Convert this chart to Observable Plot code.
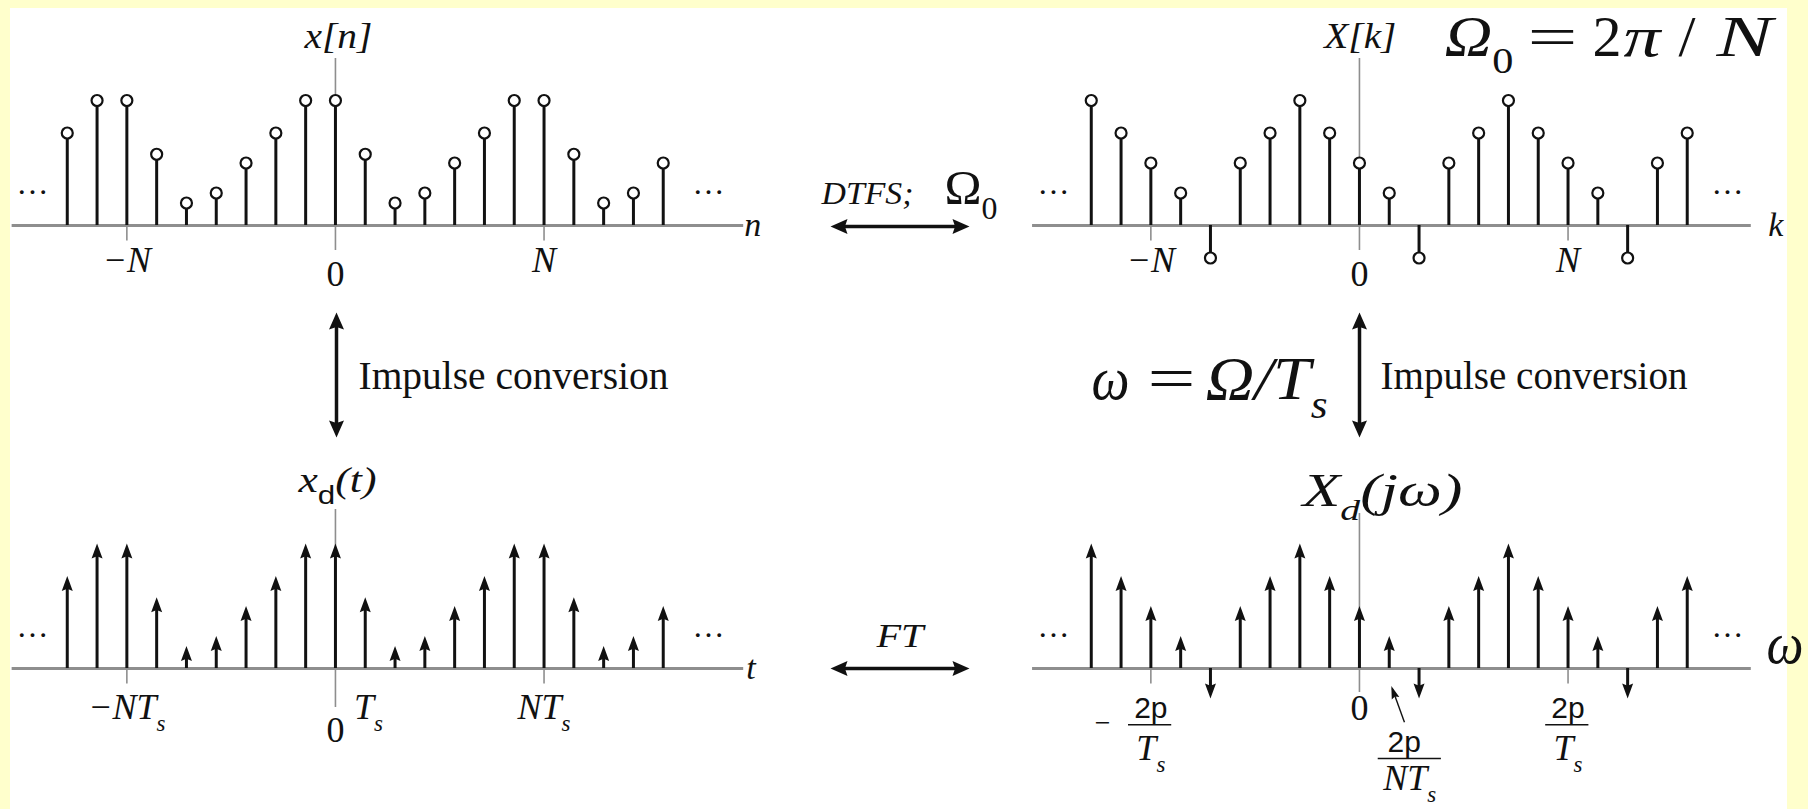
<!DOCTYPE html>
<html>
<head>
<meta charset="utf-8">
<script src="https://cdn.jsdelivr.net/npm/d3@7"></script>
<script src="https://cdn.jsdelivr.net/npm/@observablehq/plot@0.6"></script>
<style>
  html, body { margin: 0; padding: 0; background: #FFFFCC; }
  #frame { position: relative; width: 1808px; height: 809px; overflow: hidden; background: #FFFFCC; }
  #sheet { position: absolute; left: 10px; top: 8px; width: 1777px; height: 801px; background: #ffffff; }
  #frame svg { position: absolute; overflow: visible; }
</style>
</head>
<body>
<div id="frame"><div id="sheet"></div></div>
<script>
// ---- data ---------------------------------------------------------------
// sample index shown in every panel (n, k, or t / Ts, ω / Ω0)
const idx = [-9, -8, -7, -6, -5, -4, -3, -2, -1, 0, 1, 2, 3, 4, 5, 6, 7, 8, 9, 10, 11];
// x[n], period N = 7
const xn = [3.7, 5.0, 5.0, 2.85, 0.9, 1.3, 2.5, 3.7, 5.0, 5.0, 2.85, 0.9, 1.3, 2.5, 3.7, 5.0, 5.0, 2.85, 0.9, 1.3, 2.5];
// X[k], DTFS coefficients of x[n]
const Xk = [5.0, 3.7, 2.5, 1.3, -1.3, 2.5, 3.7, 5.0, 3.7, 2.5, 1.3, -1.3, 2.5, 3.7, 5.0, 3.7, 2.5, 1.3, -1.3, 2.5, 3.7];
// impulse weights of Xd(jω)
const Xd = [5.0, 3.7, 2.5, 1.3, -1.2, 2.5, 3.7, 5.0, 3.7, 2.5, 1.3, -1.2, 2.5, 3.7, 5.0, 3.7, 2.5, 1.3, -1.2, 2.5, 3.7];
// one-period tick marks and their labels
const periodTicks = [-7, 0, 7];
const discreteTickLabels = ["−N", "0", "N"];
const timeTickLabels = ["−NT_s", "0", "NT_s"];
const freqTickLabels = ["2p", "0", "2p"];

// ---- layout -------------------------------------------------------------
const STEP = 29.8;            // px between neighbouring samples
const UNIT = 25;              // px per amplitude unit
const XDOM = [-11.24, 14.26];
const PW = (XDOM[1] - XDOM[0]) * STEP;
const INK = "#111";
const AXIS = "#8e8e8e";
const SERIF = "'Liberation Serif','Times New Roman',serif";
const SANS = "'Liberation Sans',Arial,sans-serif";
const frame = document.getElementById("frame");

// filled arrowhead whose tip sits on the point; angle 0 = up, clockwise
function arrowHead(angle, len, half) {
  const a = angle * Math.PI / 180, ux = Math.sin(a), uy = -Math.cos(a), px = -uy, py = ux;
  return {
    draw(ctx) {
      ctx.moveTo(0, 0);
      ctx.lineTo(-ux * len + px * half, -uy * len + py * half);
      ctx.lineTo(-ux * len * 0.85, -uy * len * 0.85);
      ctx.lineTo(-ux * len - px * half, -uy * len - py * half);
      ctx.closePath();
    }
  };
}

// text widths requested by the labels of the plot being built, in mark order
let fitQueue = [];
function label(x, y, t, o = {}) {
  fitQueue.push(o.fit ?? null);
  return Plot.text([{x, y, t}], {
    x: "x", y: "y", text: "t",
    fontFamily: o.family ?? SERIF,
    fontSize: o.size ?? 36,
    fontStyle: o.style ?? "italic",
    textAnchor: o.anchor ?? "middle",
    lineAnchor: o.line ?? "middle",
    fill: INK
  });
}

// x_s → subscript in the same face, x|s → upright sans subscript
function subscripts(svg) {
  d3.select(svg).selectAll("text").each(function () {
    const m = this.textContent.match(/^(.*?)([_|])(.)(.*)$/);
    if (!m) return;
    const [, base, mark, sub, rest] = m;
    const fs = parseFloat(getComputedStyle(this).fontSize) || 36;
    this.textContent = "";
    const t = d3.select(this);
    t.append("tspan").text(base);
    const s = t.append("tspan").text(sub)
      .attr("dy", (fs * 0.32).toFixed(1))
      .attr("font-size", (fs * (mark === "|" ? 0.72 : 0.64)).toFixed(1));
    if (mark === "|") s.attr("font-family", SANS).attr("font-style", "normal");
    if (/\d/.test(sub)) s.attr("font-style", "normal");
    if (rest) t.append("tspan").text(rest).attr("dy", (-fs * 0.32).toFixed(1));
  });
}

function place(svg, left, top) {
  svg.style.left = left + "px";
  svg.style.top = top + "px";
  svg.querySelectorAll("text").forEach((t, i) => {
    const f = fitQueue[i];
    if (f) { t.setAttribute("textLength", f); t.setAttribute("lengthAdjust", "spacingAndGlyphs"); }
  });
  fitQueue = [];
  frame.appendChild(svg);
  subscripts(svg);
}

function panel(cfg) {
  const H = (cfg.yDomain[1] - cfg.yDomain[0]) * UNIT;
  const data = idx.map((i, j) => ({i, v: cfg.values[j]}));
  const up = data.filter(d => d.v > 0), down = data.filter(d => d.v < 0);
  const marks = [
    Plot.ruleX([0], {y1: cfg.vAxis[0], y2: cfg.vAxis[1], stroke: AXIS, strokeWidth: 1.6}),
    Plot.ruleX([periodTicks[0], periodTicks[2]], {y1: 0, y2: -0.62, stroke: AXIS, strokeWidth: 1.6}),
    Plot.ruleY([0], {x1: cfg.hAxis[0], x2: cfg.hAxis[1], stroke: AXIS, strokeWidth: 3})
  ];
  if (cfg.kind === "stem") {
    marks.push(
      Plot.ruleX(data, {x: "i", y1: 0, y2: "v", stroke: INK, strokeWidth: 3}),
      Plot.dot(data, {x: "i", y: "v", r: 5.5, fill: "#fff", stroke: INK, strokeWidth: 2.2})
    );
  } else {
    marks.push(
      Plot.ruleX(up, {x: "i", y1: "v", y2: 0, insetTop: 9, stroke: INK, strokeWidth: 3}),
      Plot.ruleX(down, {x: "i", y1: 0, y2: "v", insetBottom: 9, stroke: INK, strokeWidth: 3}),
      Plot.dot(up, {x: "i", y: "v", symbol: arrowHead(0, 15, 5.5), fill: INK, stroke: "none"}),
      Plot.dot(down, {x: "i", y: "v", symbol: arrowHead(180, 15, 5.5), fill: INK, stroke: "none"})
    );
  }
  marks.push(...cfg.extra);
  const svg = Plot.plot({
    width: PW, height: H, margin: 0,
    x: {domain: XDOM, axis: null},
    y: {domain: cfg.yDomain, axis: null},
    style: {background: "none", overflow: "visible"},
    marks
  });
  place(svg, cfg.left, cfg.top);
}

// ---- x[n] ---------------------------------------------------------------
panel({
  values: xn, kind: "stem", left: 0, top: 0, yDomain: [-3.5, 9],
  vAxis: [-1.0, 6.68], hAxis: [-10.85, 13.7],
  extra: [
    label(0.1, 7.56, "x[n]", {fit: 68}),
    label(13.72, 0, "n", {anchor: "start", size: 34}),
    label(periodTicks[0], -1.4, discreteTickLabels[0]),
    label(periodTicks[1], -1.96, discreteTickLabels[1], {style: "normal"}),
    label(periodTicks[2], -1.4, discreteTickLabels[2]),
    label(-10.17, 1.68, "…", {style: "normal", size: 32}),
    label(12.52, 1.68, "…", {style: "normal", size: 32})
  ]
});

// ---- X[k] ---------------------------------------------------------------
panel({
  values: Xk, kind: "stem", left: 1024, top: 0, yDomain: [-3.5, 9],
  vAxis: [-1.0, 6.68], hAxis: [-10.97, 13.15],
  extra: [
    label(0.03, 7.56, "X[k]", {fit: 72}),
    label(13.72, 0, "k", {anchor: "start", size: 34}),
    label(periodTicks[0], -1.4, discreteTickLabels[0]),
    label(periodTicks[1], -1.96, discreteTickLabels[1], {style: "normal"}),
    label(periodTicks[2], -1.4, discreteTickLabels[2]),
    label(-10.27, 1.68, "…", {style: "normal", size: 32}),
    label(12.35, 1.68, "…", {style: "normal", size: 32})
  ]
});

// ---- xd(t) --------------------------------------------------------------
panel({
  values: xn, kind: "impulse", left: 0, top: 443, yDomain: [-5.6, 9],
  vAxis: [-1.56, 6.36], hAxis: [-10.85, 13.7],
  extra: [
    label(-1.24, 7.52, "x|d(t)", {anchor: "start", fit: 78}),
    label(13.79, 0, "t", {anchor: "start", size: 34}),
    label(periodTicks[0], -1.56, timeTickLabels[0]),
    label(0.62, -1.56, "T_s", {anchor: "start"}),
    label(periodTicks[1], -2.48, timeTickLabels[1], {style: "normal"}),
    label(periodTicks[2], -1.56, timeTickLabels[2]),
    label(-10.17, 1.68, "…", {style: "normal", size: 32}),
    label(12.52, 1.68, "…", {style: "normal", size: 32})
  ]
});

// ---- Xd(jω) -------------------------------------------------------------
const fractionBars = [
  {y: -2.25, x1: -7.75, x2: -6.3},
  {y: -3.6, x1: 0.63, x2: 2.75},
  {y: -2.25, x1: 6.25, x2: 7.7}
];
panel({
  values: Xd, kind: "impulse", left: 1024, top: 443, yDomain: [-5.6, 9],
  vAxis: [-0.96, 6.2], hAxis: [-10.97, 13.15],
  extra: [
    Plot.ruleY(fractionBars, {y: "y", x1: "x1", x2: "x2", stroke: INK, strokeWidth: 1.5}),
    label(-8.62, -2.2, "−", {style: "normal", size: 28}),
    label(periodTicks[0], -1.6, freqTickLabels[0], {family: SANS, style: "normal", size: 30}),
    label(periodTicks[0], -3.2, "T_s"),
    label(periodTicks[1], -1.6, freqTickLabels[1], {style: "normal"}),
    label(1.5, -2.95, freqTickLabels[0], {family: SANS, style: "normal", size: 30}),
    label(1.69, -4.4, "NT_s"),
    label(periodTicks[2], -1.6, freqTickLabels[2], {family: SANS, style: "normal", size: 30}),
    label(periodTicks[2], -3.2, "T_s"),
    Plot.link([{x1: 1.51, y1: -2.15, x2: 1.1, y2: -0.8}], {x1: "x1", y1: "y1", x2: "x2", y2: "y2", stroke: INK, strokeWidth: 1.4}),
    Plot.dot([{x: 1.07, y: -0.7}], {x: "x", y: "y", symbol: arrowHead(-19, 13, 4), fill: INK, stroke: "none"}),
    label(-10.27, 1.68, "…", {style: "normal", size: 32}),
    label(12.35, 1.68, "…", {style: "normal", size: 32})
  ]
});

// ---- transform arrows and formulas --------------------------------------
const pairs = [
  {x1: 830, y1: 226, x2: 969, y2: 226, a: -90, b: 90},   // DTFS
  {x1: 830, y1: 668, x2: 969, y2: 668, a: -90, b: 90},   // FT
  {x1: 336, y1: 312, x2: 336, y2: 437, a: 0, b: 180},    // impulse conversion, time side
  {x1: 1359, y1: 312, x2: 1359, y2: 437, a: 0, b: 180}   // impulse conversion, frequency side
];
const shaft = pairs.map(p => {
  const L = Math.hypot(p.x2 - p.x1, p.y2 - p.y1), ux = (p.x2 - p.x1) / L, uy = (p.y2 - p.y1) / L;
  return {x1: p.x1 + ux * 10, y1: p.y1 + uy * 10, x2: p.x2 - ux * 10, y2: p.y2 - uy * 10};
});
const heads = [];
for (const p of pairs) {
  heads.push(Plot.dot([{x: p.x1, y: p.y1}], {x: "x", y: "y", symbol: arrowHead(p.a, 17, 7.5), fill: INK, stroke: "none"}));
  heads.push(Plot.dot([{x: p.x2, y: p.y2}], {x: "x", y: "y", symbol: arrowHead(p.b, 17, 7.5), fill: INK, stroke: "none"}));
}
function note(x, y, t, size, style = "italic", fit = null) {
  return label(x, y, t, {size, style, anchor: "start", line: "bottom", fit});
}
const overlay = Plot.plot({
  width: 1808, height: 809, margin: 0,
  x: {type: "identity", axis: null},
  y: {type: "identity", axis: null},
  style: {background: "none", overflow: "visible"},
  marks: [
    Plot.link(shaft, {x1: "x1", y1: "y1", x2: "x2", y2: "y2", stroke: INK, strokeWidth: 3.5}),
    ...heads,
    note(821, 203, "DTFS;", 31, "italic", 92),
    note(944, 203, "Ω_0", 48, "normal", 53),
    note(876, 646, "FT", 33, "italic", 47),
    note(358, 388, "Impulse conversion", 39, "normal", 310),
    note(1380, 388, "Impulse conversion", 39, "normal", 307),
    note(1444, 55, "Ω_0", 56, "italic", 69),
    note(1527, 55, "=", 56, "normal", 50),
    note(1592, 55, "2", 56, "normal", 29),
    note(1623, 55, "π", 56, "italic", 37),
    note(1678, 55, "/", 56, "normal", 17),
    note(1716, 55, "N", 56, "italic", 56),
    note(1091, 398, "ω", 62, "italic", 38),
    note(1147, 398, "=", 62, "normal", 48),
    note(1205, 398, "Ω/T_s", 62, "italic", 122),
    note(1302, 505, "X_d(jω)", 46, "italic", 160),
    note(1766, 662, "ω", 60, "italic", 37)
  ]
});
place(overlay, 0, 0);
</script>
</body>
</html>
